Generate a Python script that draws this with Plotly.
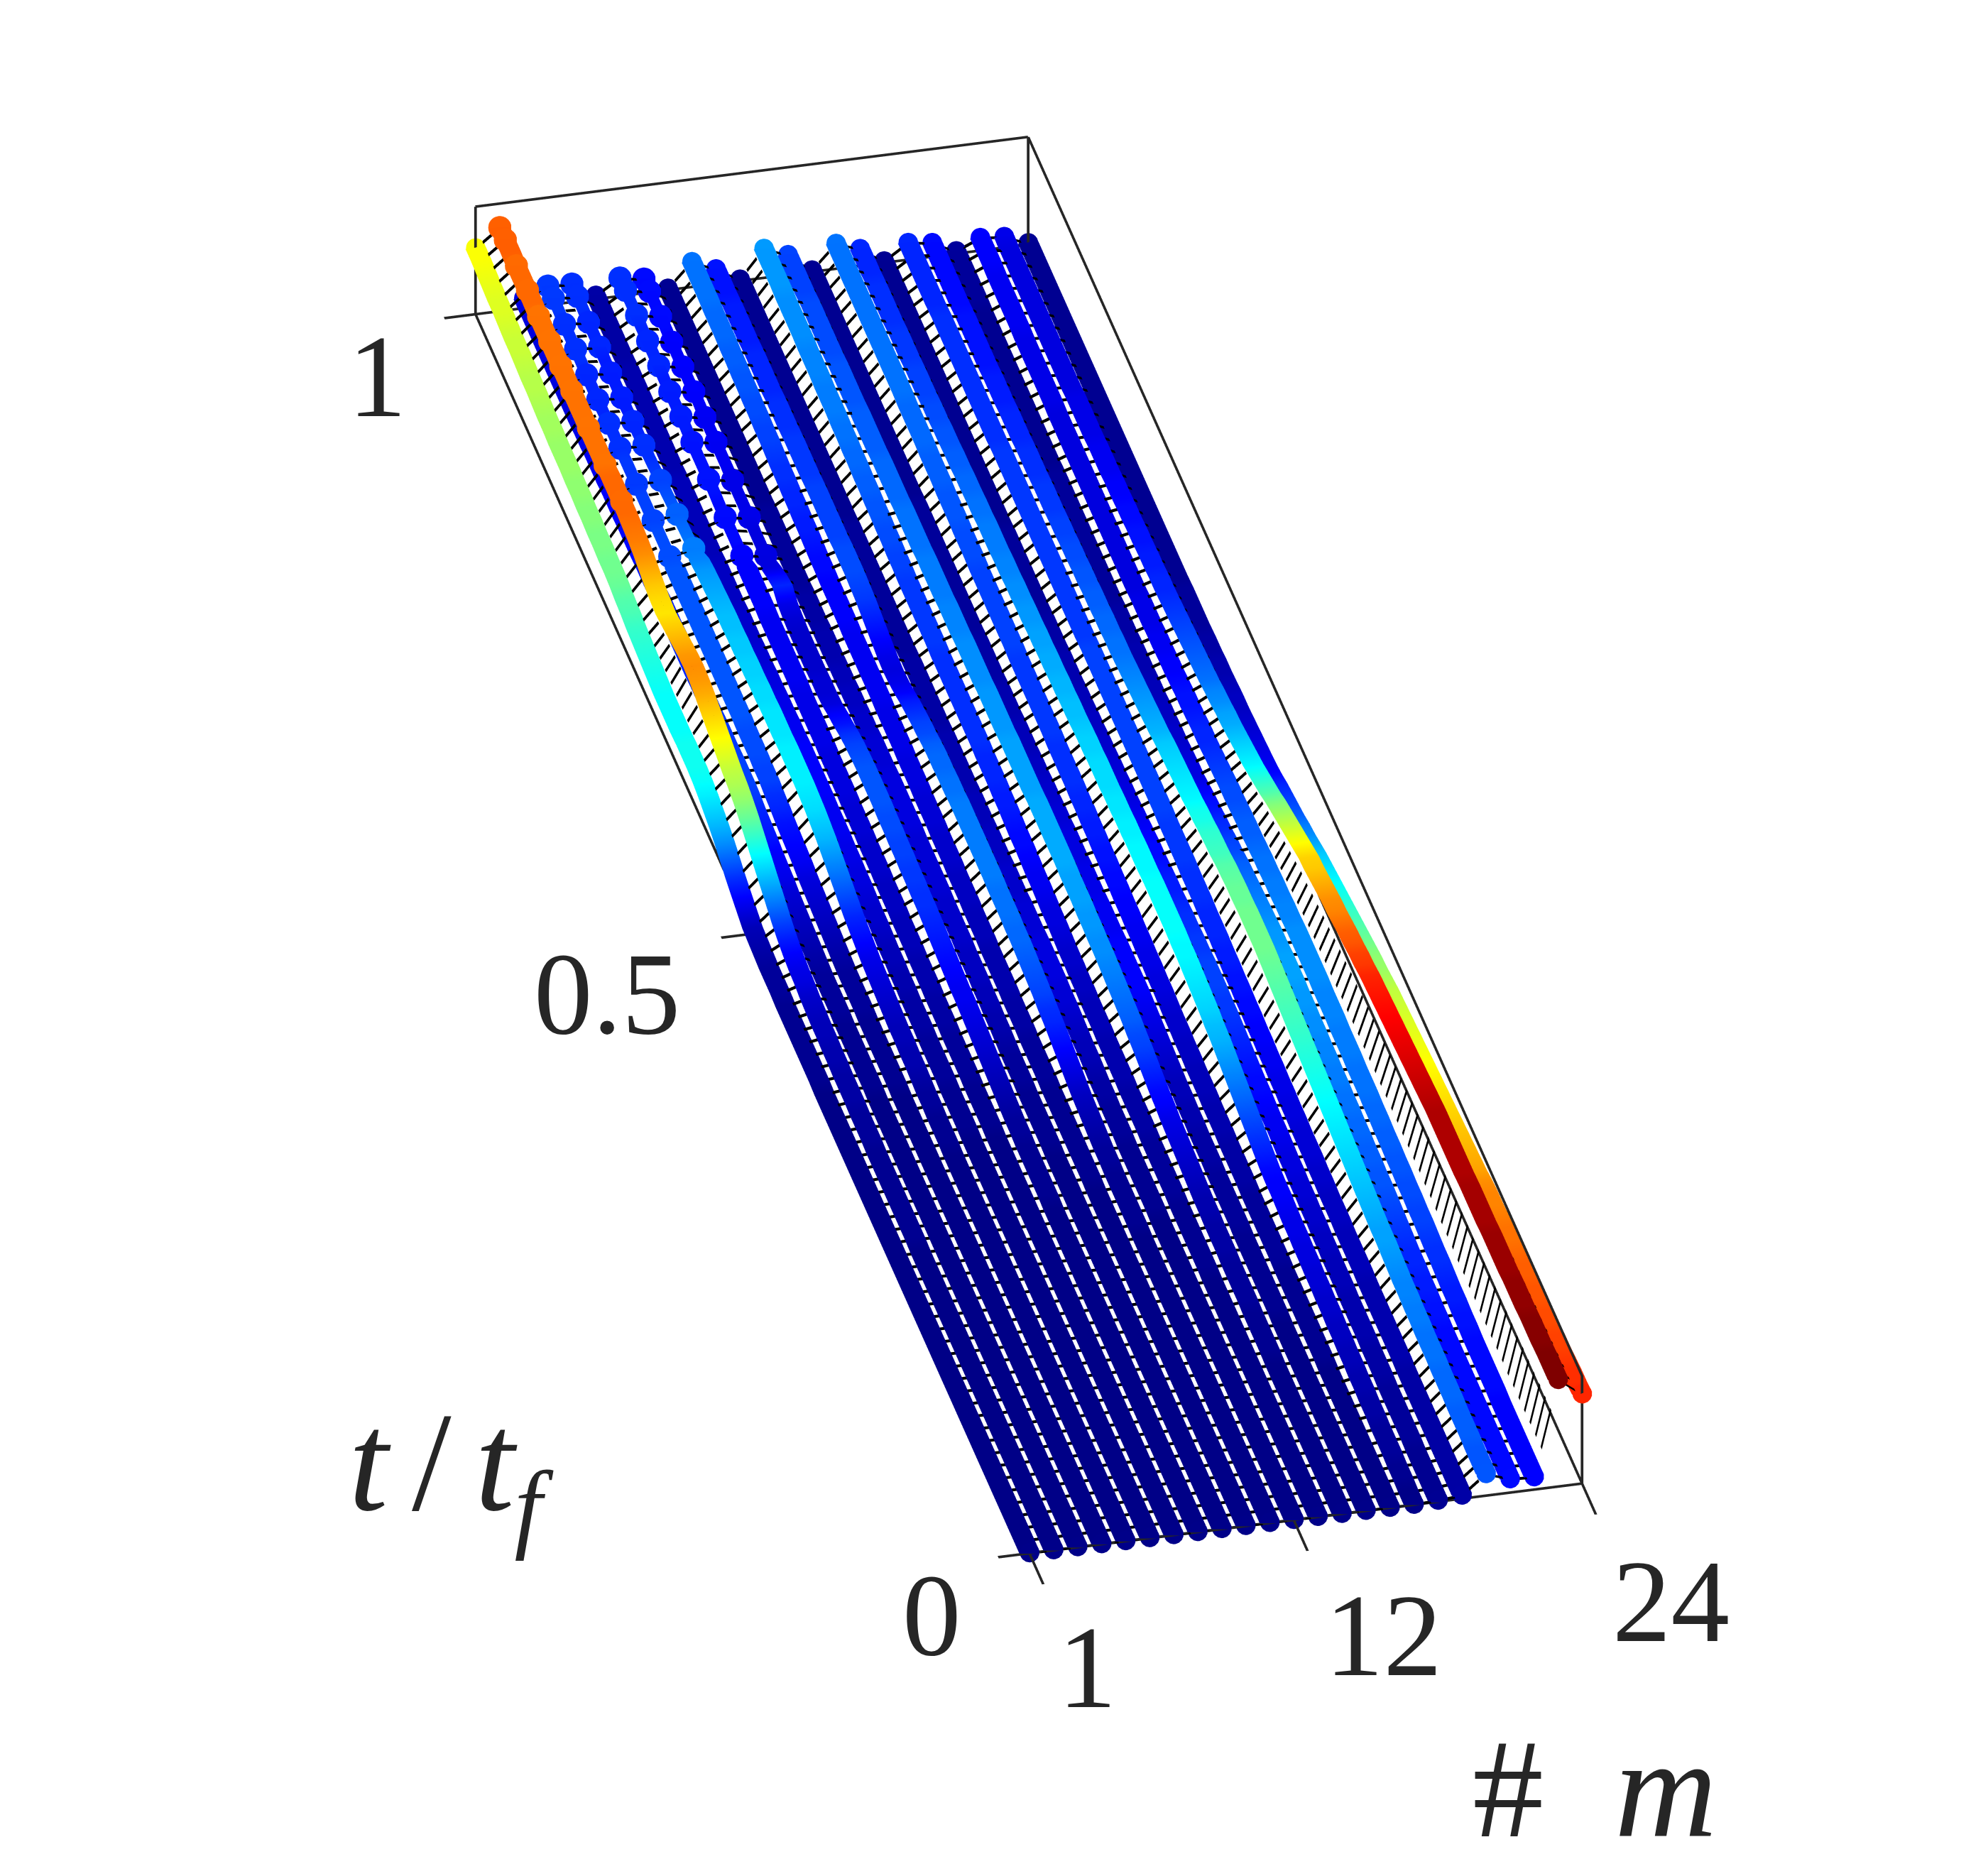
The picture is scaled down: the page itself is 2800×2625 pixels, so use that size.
import numpy as np
import plotly.graph_objects as go

# z (percent) of each mode along t/tf, 101 samples
m01 = [1,1,1,1,1,1,1,1,1,1, 1,1,1,1,1,1,1,1,1,1, 1,1,1,1,1,1,1,1,1,1,
       1,1,1,1,1,1,1,1,2,2, 2,2,2,2,2,3,3,3,4,5, 6,10,14,18,23,28,32,35,38,40,
       41,41,41,40,40,40,40,41,42,43, 44,45,47,48,50,51,51,52,52,53,
       53,54,54,55,55,55,56,56,57,58, 58,59,60,60,61,62,62,63,64,65,65]
m02 = [1,1,1,1,1,1,1,1,1,1, 1,1,1,1,1,1,1,1,1,1, 1,1,1,1,1,2,2,2,2,2,
       2,2,2,3,3,3,4,4,4,5, 5,6,6,7,8,10,11,13,16,20, 25,30,35,40,45,50,54,57,59,62,
       65,68,71,74,76,77,76,74,72,70, 68,69,71,74,77,79,80,81,81,81,
       81,80,80,80,80,80,80,80,80,80, 80,80,80,80,81,81,81,81,82,82,82]
m03 = [1,1,1,1,1,1,1,1,1,1, 1,1,1,1,1,1,1,1,1,1, 1,1,1,1,1,1,1,1,1,1,
       1,1,1,1,1,1,1,2,2,2, 2,2,2,3,3,3,3,4,5,6, 7,8,9,11,12,13,15,16,17,19,
       20,20,20,19,19,19,18,18,18,17, 17,17,17,16,16,16,15,15,15,14,
       14,14,13,13,13,12,12,12,11,11, 10,10,10,10,10,10,10,10,10,10,10]
m04 = [1,1,1,1,1,1,1,1,1,1, 1,1,1,1,1,1,1,1,1,1, 1,1,1,1,1,1,1,1,1,1,
       1,1,1,1,1,1,1,2,2,2, 2,2,2,3,3,3,3,4,5,6, 7,8,9,10,12,13,14,15,17,18,
       20,20,21,21,21,22,22,22,22,22, 22,22,22,22,22,22,22,22,21,21,
       21,20,20,20,19,19,19,18,18,18, 17,17,17,17,18,18,18,18,19,19,19]
m05 = [1,1,1,1,1,1,1,1,1,1, 1,1,1,1,1,1,1,1,1,1, 1,1,1,1,1,1,1,1,1,1,
       1,1,2,2,2,3,3,4,5,5, 6,6,7,8,9,10,11,13,15,17, 20,23,26,29,32,34,36,37,38,38,
       38,38,37,37,37,36,36,35,35,34, 34,33,33,32,31,30,29,27,26,25,
       24,23,22,21,20,19,18,18,17,17, 16,16,16,16,16,17,17,17,18,18,18]
m06 = [1,1,1,1,1,1,1,1,1,1, 1,1,1,1,1,1,1,1,1,1, 1,1,1,1,1,1,1,1,1,1,
       1,1,1,2,2,2,2,3,3,3, 3,4,4,4,5,5,6,6,7,8, 8,9,10,10,11,11,12,12,12,13,
       13,13,13,13,12,12,11,11,10,10, 9,9,8,8,8,7,7,7,7,6,
       6,6,6,6,6,6,5,5,5,5, 5,5,5,5,5,4,4,4,4,4,4]
m07 = [1,1,1,1,1,1,1,1,1,1, 1,1,1,1,1,1,1,1,1,1, 1,1,1,1,1,1,1,1,1,1,
       1,1,1,2,2,2,2,3,3,3, 3,4,4,4,5,5,5,6,6,6, 7,7,7,8,8,8,9,9,9,10,
       10,10,10,11,11,11,11,11,12,12, 12,12,12,12,13,13,13,13,13,14,
       14,14,14,15,15,15,15,15,16,16, 16,16,16,17,17,17,17,18,18,18,18]
m08 = [1,1,1,1,1,1,1,1,1,1, 1,1,1,1,1,1,1,1,1,1, 1,1,1,1,1,1,1,2,2,2,
       2,2,3,3,4,5,6,7,8,9, 10,11,12,12,13,14,15,16,17,18, 18,19,19,20,20,21,21,22,22,22,
       22,21,20,18,15,13,10,9,9,8, 8,8,8,9,11,17,14,10,10,10,
       10,11,11,11,11,12,12,12,12,12, 13,13,13,13,13,13,14,14,14,14,14]
m09 = [1,1,1,1,1,1,1,1,1,1, 1,1,1,1,1,1,1,1,1,1, 1,1,1,1,1,1,1,1,1,1,
       1,2,2,2,2,2,3,3,3,4, 5,5,6,6,7,7,7,8,8,8, 8,9,9,9,9,9,10,10,10,10,
       10,9,9,9,8,8,7,7,6,6, 5,5,5,4,4,4,3,3,3,3,
       3,3,3,2,2,2,2,2,2,2, 2,2,2,2,2,2,2,2,2,2,2]
m10 = [1,1,1,1,1,1,1,1,1,1, 1,1,1,1,1,1,1,1,1,1, 1,1,1,1,1,1,1,1,2,2,
       2,2,2,2,2,2,3,3,3,3, 4,4,4,5,5,5,5,6,6,6, 7,7,7,8,8,8,9,9,9,10,
       10,10,11,11,11,11,12,12,12,12, 12,12,13,13,13,13,14,14,15,16,
       16,17,17,18,18,19,20,20,21,21, 22,22,23,23,24,24,24,25,25,25,25]
m11 = [1,1,1,1,1,1,1,1,1,1, 1,1,1,1,1,1,1,1,1,1, 1,1,1,1,2,2,2,2,2,3,
       3,4,5,6,7,9,11,13,15,17, 18,20,21,22,23,24,24,25,25,25, 26,26,26,26,26,26,26,25,25,24,
       24,23,21,20,18,16,13,11,10,11, 13,15,17,19,20,21,21,21,20,20,
       20,20,20,19,19,19,19,18,18,18, 17,17,17,17,16,16,16,16,15,15,15]
m12 = [1,1,1,1,1,1,1,1,1,1, 1,1,1,1,1,1,1,1,1,1, 1,1,1,1,1,2,2,2,2,2,
       2,3,3,3,4,4,5,6,6,7, 8,9,9,10,10,10,10,9,9,9, 8,8,8,7,7,7,6,6,6,5,
       5,5,5,5,4,4,4,4,4,4, 3,3,3,3,3,3,3,3,3,3,
       3,2,2,2,2,2,2,2,2,2, 2,2,2,2,2,2,2,2,2,2,2]
m13 = [1,1,1,1,1,1,1,1,1,1, 1,1,1,1,1,1,1,1,1,1, 2,2,2,2,2,2,3,3,3,3,
       3,4,4,4,4,5,5,5,5,6, 6,6,7,7,8,8,9,10,10,11, 12,12,13,14,14,15,16,16,17,17,
       17,18,18,18,18,18,18,18,18,19, 19,19,19,19,19,20,20,21,21,22,
       22,23,23,24,24,25,25,26,26,26, 27,27,27,28,28,28,28,29,29,29,29]
m14 = [1,1,1,1,1,1,1,1,1,1, 1,1,1,2,2,2,2,3,3,3, 3,4,4,4,5,5,6,7,8,9,
       10,11,13,14,16,18,20,21,23,24, 25,26,27,28,28,29,29,30,30,30, 31,31,31,31,31,31,30,30,30,30,
       30,29,29,29,29,28,28,28,28,27, 27,27,26,26,26,26,25,25,25,25,
       24,24,24,24,23,23,23,23,22,22, 22,22,21,21,21,21,21,20,20,20,20]
m15 = [1,1,1,1,1,1,1,1,1,1, 1,1,1,1,1,1,2,2,2,2, 2,2,2,3,3,3,3,3,4,4,
       4,5,5,6,6,7,8,9,10,11, 12,13,13,13,13,13,12,12,12,11, 11,11,10,10,10,9,9,8,8,7,
       7,6,6,6,5,5,5,4,4,4, 4,3,3,3,3,3,3,3,3,3,
       3,3,2,2,2,2,2,2,2,2, 2,2,2,2,2,2,2,2,2,2,2]
m16 = [1,1,1,1,1,1,1,1,1,1, 1,1,2,2,2,2,2,2,2,2, 3,3,3,3,3,3,4,4,4,4,
       5,5,5,6,6,6,7,7,8,8, 9,10,10,11,11,12,12,13,13,14, 14,15,15,16,16,17,17,18,18,18,
       18,19,19,19,19,19,19,19,20,20, 20,20,20,20,20,21,21,21,22,22,
       22,23,23,23,24,24,24,24,25,25, 25,25,25,25,25,25,25,25,25,25,25]
m17 = [1,1,2,2,3,3,3,4,4,5, 5,6,6,7,7,8,8,9,9,10, 10,11,11,12,13,13,14,16,18,20,
       22,24,26,28,30,32,33,35,36,37, 38,39,39,40,40,40,40,40,39,39, 39,38,38,37,37,36,36,36,35,35,
       34,33,33,32,32,31,31,30,30,29, 29,28,28,27,27,26,26,26,25,25,
       24,24,23,23,22,22,21,21,20,20, 20,19,19,19,18,18,18,18,17,17,17]
m18 = [2,2,2,2,2,3,3,3,3,3, 4,4,4,5,5,5,5,6,6,6, 7,7,8,8,9,9,10,10,11,12,
       12,13,14,14,15,16,17,18,19,19, 20,20,20,19,19,18,18,17,16,16, 15,14,14,13,12,11,10,10,9,9,
       8,8,7,7,6,6,5,5,5,4, 4,4,3,3,3,3,3,3,3,2,
       2,2,2,2,2,2,2,2,2,2, 2,2,2,2,2,2,2,2,2,2,2]
m19 = [4,4,4,4,4,4,4,4,4,4, 4,5,5,5,5,5,5,5,6,6, 6,6,7,7,7,8,8,9,9,9,
       10,10,11,11,12,12,13,13,14,14, 15,15,16,16,17,17,17,18,18,18, 19,19,19,19,20,20,20,20,20,20,
       20,20,20,20,20,20,20,20,19,19, 19,19,19,19,19,19,19,19,19,19,
       19,19,19,19,18,18,18,18,18,18, 18,18,18,18,18,17,17,17,17,17,17]
m20 = [22,22,22,23,23,23,24,24,24,25, 25,25,26,26,27,27,28,29,30,30, 31,32,33,34,35,36,37,38,39,40,
       41,42,43,44,45,46,47,48,49,50, 51,51,51,51,50,50,49,48,46,45, 44,42,41,39,38,37,36,35,34,32,
       31,30,29,28,27,26,25,25,24,24, 23,23,22,22,21,21,20,20,19,19,
       19,18,18,18,17,17,17,16,16,16, 15,15,15,15,15,14,14,14,14,14,14]
m21 = [14,14,14,14,14,14,14,14,14,14, 14,14,14,15,15,16,16,17,17,18, 19,20,21,22,22,23,23,24,24,25,
       25,26,26,27,27,28,28,29,29,30, 30,30,29,29,28,27,26,25,24,23, 21,20,18,17,15,14,12,10,10,9,
       8,8,7,7,6,6,5,5,5,4, 4,4,3,3,3,3,3,3,3,3,
       3,3,3,2,2,2,2,2,2,2, 2,2,2,2,2,2,3,3,3,3,3]
m22 = [13,13,13,13,13,13,13,14,14,14, 14,14,15,15,16,16,17,18,18,19, 20,20,21,21,22,22,23,23,24,24,
       25,25,25,26,26,26,27,27,27,28, 28,28,28,28,27,27,26,26,25,25, 24,23,23,22,21,21,20,19,18,17,
       17,16,15,15,14,13,13,12,12,11, 11,11,10,10,10,10,10,10,10,10,
       10,10,10,10,10,10,10,11,11,11, 11,11,11,12,12,12,12,12,13,13,13]
m23 = [105,105,105,104,104,104,103,103,103,102, 102,102,102,101,101,101,101,100,100,100, 100,100,100,99,98,97,96,95,94,93,
       92,91,90,89,88,86,85,83,82,80, 78,77,75,73,71,70,67,64,61,58, 55,52,48,45,42,39,37,35,33,31,
       30,28,27,25,24,23,22,21,20,19, 18,17,17,16,16,15,15,14,14,13,
       13,12,12,12,11,11,11,11,10,10, 10,10,10,10,10,10,10,10,10,10,11]
m24 = [88,87,87,86,85,85,84,84,83,83, 82,82,81,80,80,79,78,78,77,75, 74,73,72,71,70,69,68,67,66,65,
       64,63,62,61,60,59,57,55,54,52, 50,48,46,44,42,40,38,36,34,31, 28,26,23,21,19,17,14,12,11,10,
       9,8,7,7,6,5,5,4,4,3, 3,3,3,2,2,2,2,2,2,2,
       2,2,2,2,2,2,2,2,2,2, 2,2,2,2,2,2,2,2,2,2,2]

modes = [m01, m02, m03, m04, m05, m06, m07, m08, m09, m10, m11, m12,
         m13, m14, m15, m16, m17, m18, m19, m20, m21, m22, m23, m24]
for k, row in enumerate(modes):
    assert len(row) == 101, (k + 1, len(row))

mode_numbers = list(range(1, 25))
t_frac = np.arange(101) / 100
z_top = 1.05
t_ticks = [0, 0.5, 1]
m_ticks = [1, 12, 24]
bead_modes = [4, 5, 7, 8]
bead_steps = [78, 81, 84, 87, 89, 91, 93, 95, 97, 99, 100]

jet = [[0, "#00007f"], [0.125, "#0000ff"], [0.375, "#00ffff"],
       [0.625, "#ffff00"], [0.875, "#ff0000"], [1, "#7f0000"]]
line_dark = "#262626"
flat_light = dict(ambient=1, diffuse=0, specular=0, roughness=1, fresnel=0)

Z = np.array(modes) / 100
n_t = len(t_frac)
half_width = 0.42      # thick line half width, in modes
bead_half_width = 0.26
hatch_half = 0.0011    # cross line half width, in t/tf
edge_half_m = 0.055
edge_half_t = 0.001

fig = go.Figure()


# gl lines stay 1px wide here, so every wide line is a flat strip of triangles
class Strips:
    def __init__(self):
        self.x, self.y, self.z, self.i, self.j, self.k, self.v = [], [], [], [], [], [], []

    def add(self, a, b, value=0):
        self.x += [a[0], b[0]]
        self.y += [a[1], b[1]]
        self.z += [a[2], b[2]]
        self.v += [value, value]

    def close(self):
        n = len(self.x)
        self.i += [n - 4, n - 3]
        self.j += [n - 3, n - 1]
        self.k += [n - 2, n - 2]


# cross lines between neighbouring modes at every time step
hatch = Strips()
for j, t in enumerate(t_frac):
    for k in range(23):
        m0 = mode_numbers[k]
        z0, z1 = Z[k, j], Z[k + 1, j]
        za = z0 + 0.3 * (z1 - z0) - 0.01
        zb = z0 + 0.7 * (z1 - z0) - 0.01
        hatch.add((m0 + 0.3, t - hatch_half, za), (m0 + 0.3, t + hatch_half, za))
        hatch.add((m0 + 0.7, t - hatch_half, zb), (m0 + 0.7, t + hatch_half, zb))
        hatch.close()
fig.add_trace(go.Mesh3d(x=hatch.x, y=hatch.y, z=hatch.z, i=hatch.i, j=hatch.j, k=hatch.k,
                        color="black", lighting=flat_light, hoverinfo="skip"))

# thick mode lines coloured by their value
lines = Strips()
for k, m in enumerate(mode_numbers):
    for j, t in enumerate(t_frac):
        w = half_width
        if m in bead_modes and j >= bead_steps[0]:
            w = bead_half_width
        lines.add((m - w, t, Z[k, j]), (m + w, t, Z[k, j]), Z[k, j])
        if j > 0:
            lines.close()
fig.add_trace(go.Mesh3d(x=lines.x, y=lines.y, z=lines.z, i=lines.i, j=lines.j, k=lines.k,
                        intensity=lines.v, colorscale=jet, cmin=0, cmax=z_top, showscale=False,
                        lighting=flat_light, hoverinfo="skip"))

# round ends of every line
cap_x, cap_y, cap_z = [], [], []
for k, m in enumerate(mode_numbers):
    for j in [0, n_t - 1]:
        cap_x.append(m)
        cap_y.append(t_frac[j])
        cap_z.append(Z[k, j])
fig.add_trace(go.Scatter3d(x=cap_x, y=cap_y, z=cap_z, mode="markers",
                           marker=dict(color=cap_z, colorscale=jet, cmin=0, cmax=z_top, size=16,
                                       line=dict(width=0)),
                           hoverinfo="skip"))

# beads near the end of some lines
bead_x, bead_y, bead_z = [], [], []
for k, m in enumerate(mode_numbers):
    if m in bead_modes or m == 2:
        for j in bead_steps:
            bead_x.append(m)
            bead_y.append(t_frac[j])
            bead_z.append(Z[k, j])
fig.add_trace(go.Scatter3d(x=bead_x, y=bead_y, z=bead_z, mode="markers",
                           marker=dict(color=bead_z, colorscale=jet, cmin=0, cmax=z_top, size=19,
                                       line=dict(width=0)),
                           hoverinfo="skip"))

# box edges (back style) and tick marks
frame = Strips()


def edge(a, b, along):
    # along says which data direction the strip is widened in
    if along == "m":
        d = (edge_half_m, 0, 0)
    else:
        d = (0, edge_half_t, 0)
    frame.add((a[0] - d[0], a[1] - d[1], a[2]), (a[0] + d[0], a[1] + d[1], a[2]))
    frame.add((b[0] - d[0], b[1] - d[1], b[2]), (b[0] + d[0], b[1] + d[1], b[2]))
    frame.close()


edge((1, 0, 0), (24, 0, 0), "t")
edge((1, 1, 0), (24, 1, 0), "t")
edge((1, 1, z_top), (24, 1, z_top), "t")
edge((1, 0, 0), (1, 1, 0), "m")
edge((24, 0, 0), (24, 1, 0), "m")
edge((24, 0, z_top), (24, 1, z_top), "m")
edge((1, 1, 0), (1, 1, z_top), "m")
edge((24, 1, 0), (24, 1, z_top), "m")
edge((24, 0, 0), (24, 0, z_top), "m")
for m in m_ticks:
    edge((m, 0, 0), (m, -0.025, 0), "m")
for t in t_ticks:
    edge((1, t, 0), (-0.3, t, 0), "t")
fig.add_trace(go.Mesh3d(x=frame.x, y=frame.y, z=frame.z, i=frame.i, j=frame.j, k=frame.k,
                        color=line_dark, lighting=flat_light, hoverinfo="skip"))

hidden_axis = dict(visible=False, showbackground=False, showgrid=False, zeroline=False)
x_range = [-1, 26]
y_range = [-0.05, 1.05]
z_range = [-0.1, 1.2]
box_scale = 1.515
eye_dist = 5
fig.update_layout(
    width=2800, height=2625, margin=dict(l=0, r=0, t=0, b=0),
    paper_bgcolor="white", showlegend=False,
    scene=dict(
        domain=dict(x=[0.0322, 0.9972], y=[0.102, 1.0]),
        xaxis=dict(range=x_range, **hidden_axis),
        yaxis=dict(range=y_range, **hidden_axis),
        zaxis=dict(range=z_range, **hidden_axis),
        aspectmode="manual",
        aspectratio=dict(x=0.526 * box_scale, y=2.08 * box_scale, z=0.124 * box_scale),
        camera=dict(
            projection=dict(type="orthographic"),
            up=dict(x=0, y=0, z=1),
            center=dict(x=0, y=0, z=0),
            eye=dict(x=-0.1957 * eye_dist, y=-0.824 * eye_dist, z=0.531 * eye_dist),
        ),
    ),
)

text_font = dict(family="Liberation Serif", size=165, color=line_dark)
label_font = dict(family="Liberation Serif", size=200, color=line_dark)
tick_labels = [
    ("1", 523, 522), ("0.5", 847, 1391), ("0", 1304, 2266),
    ("1", 1523, 2340), ("12", 1940, 2295), ("24", 2345, 2247),
]
for text, px, py in tick_labels:
    fig.add_annotation(text=text, x=px / 2800, y=1 - py / 2625, xref="paper", yref="paper",
                       showarrow=False, font=text_font, xanchor="center", yanchor="middle")
axis_labels = [
    ("<i>t</i>\u200a\u200a/\u200a\u200a<i>t<sub>f</sub></i>", 628, 2065),
    ("#\u2002<i>m</i>", 2238, 2510),
]
for text, px, py in axis_labels:
    fig.add_annotation(text=text, x=px / 2800, y=1 - py / 2625, xref="paper", yref="paper",
                       showarrow=False, font=label_font, xanchor="center", yanchor="middle")

fig.write_html("out.html")
